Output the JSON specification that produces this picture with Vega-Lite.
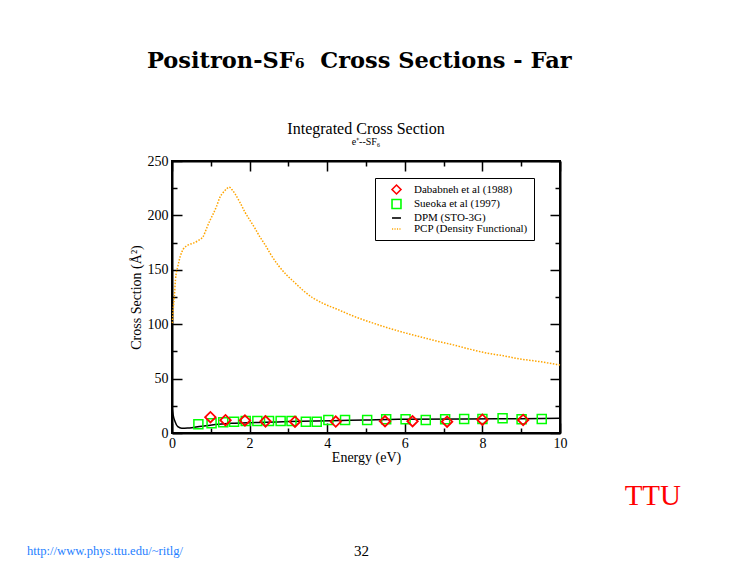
{
  "$schema": "https://vega.github.io/schema/vega-lite/v6.json",
  "autosize": {"type": "none"},
  "padding": {"left": 172, "top": 161, "right": 558, "bottom": 406},
  "background": "white",
  "config": {
    "font": "Liberation Serif",
    "view": {"stroke": "black", "strokeWidth": 2},
    "axis": {
      "grid": false, "domainColor": "black", "domainWidth": 2,
      "tickColor": "black", "tickWidth": 1.5,
      "labelFont": "Liberation Serif", "labelFontSize": 14, "labelColor": "black",
      "titleFont": "Liberation Serif", "titleFontSize": 14, "titleFontWeight": "normal", "titleColor": "black"
    }
  },
  "datasets": {
    "pcp": [
      {"energy": 0.01, "sigma": 101}, {"energy": 0.03, "sigma": 113}, {"energy": 0.06, "sigma": 125},
      {"energy": 0.09, "sigma": 141}, {"energy": 0.15, "sigma": 153}, {"energy": 0.21, "sigma": 162},
      {"energy": 0.29, "sigma": 169}, {"energy": 0.38, "sigma": 172}, {"energy": 0.46, "sigma": 173.5},
      {"energy": 0.55, "sigma": 174.5}, {"energy": 0.68, "sigma": 177}, {"energy": 0.81, "sigma": 181},
      {"energy": 0.89, "sigma": 188}, {"energy": 0.98, "sigma": 195.5}, {"energy": 1.07, "sigma": 202},
      {"energy": 1.15, "sigma": 208.5}, {"energy": 1.24, "sigma": 217}, {"energy": 1.32, "sigma": 221},
      {"energy": 1.41, "sigma": 224.5}, {"energy": 1.47, "sigma": 226}, {"energy": 1.55, "sigma": 223.5},
      {"energy": 1.62, "sigma": 220}, {"energy": 1.75, "sigma": 212}, {"energy": 1.88, "sigma": 203},
      {"energy": 2.0, "sigma": 196}, {"energy": 2.14, "sigma": 188}, {"energy": 2.27, "sigma": 180},
      {"energy": 2.4, "sigma": 173}, {"energy": 2.53, "sigma": 165}, {"energy": 2.74, "sigma": 154},
      {"energy": 2.96, "sigma": 145}, {"energy": 3.17, "sigma": 138}, {"energy": 3.38, "sigma": 131},
      {"energy": 3.64, "sigma": 124}, {"energy": 3.9, "sigma": 119}, {"energy": 4.24, "sigma": 114},
      {"energy": 4.67, "sigma": 107.5}, {"energy": 5.1, "sigma": 102}, {"energy": 5.53, "sigma": 97},
      {"energy": 5.96, "sigma": 92.5}, {"energy": 6.39, "sigma": 88.5}, {"energy": 6.82, "sigma": 84.5},
      {"energy": 7.25, "sigma": 81}, {"energy": 7.68, "sigma": 77}, {"energy": 8.11, "sigma": 73.5},
      {"energy": 8.54, "sigma": 71}, {"energy": 8.97, "sigma": 68}, {"energy": 9.4, "sigma": 66},
      {"energy": 9.91, "sigma": 63}, {"energy": 10.0, "sigma": 62.5}
    ],
    "dpm": [
      {"energy": 0.0, "sigma": 24}, {"energy": 0.03, "sigma": 16.5}, {"energy": 0.08, "sigma": 10.4},
      {"energy": 0.15, "sigma": 5.8}, {"energy": 0.25, "sigma": 4.3}, {"energy": 0.4, "sigma": 4.5},
      {"energy": 0.51, "sigma": 4.9}, {"energy": 0.7, "sigma": 6}, {"energy": 0.94, "sigma": 7},
      {"energy": 1.2, "sigma": 8}, {"energy": 1.54, "sigma": 8.9}, {"energy": 2.0, "sigma": 9.5},
      {"energy": 2.4, "sigma": 9.8}, {"energy": 3.0, "sigma": 10.5}, {"energy": 4.11, "sigma": 11.3},
      {"energy": 5.0, "sigma": 12}, {"energy": 5.83, "sigma": 12.6}, {"energy": 7.55, "sigma": 12.9},
      {"energy": 9.0, "sigma": 13.2}, {"energy": 10.0, "sigma": 13.5}
    ],
    "dababneh": [
      {"energy": 0.99, "sigma": 14.5, "series": "Dababneh et al (1988)"},
      {"energy": 1.38, "sigma": 11.8, "series": "Dababneh et al (1988)"},
      {"energy": 1.88, "sigma": 11.5, "series": "Dababneh et al (1988)"},
      {"energy": 2.41, "sigma": 10.7, "series": "Dababneh et al (1988)"},
      {"energy": 3.17, "sigma": 10.4, "series": "Dababneh et al (1988)"},
      {"energy": 4.22, "sigma": 10.5, "series": "Dababneh et al (1988)"},
      {"energy": 5.49, "sigma": 10.8, "series": "Dababneh et al (1988)"},
      {"energy": 6.2, "sigma": 10.8, "series": "Dababneh et al (1988)"},
      {"energy": 7.09, "sigma": 10.4, "series": "Dababneh et al (1988)"},
      {"energy": 8.0, "sigma": 12.2, "series": "Dababneh et al (1988)"},
      {"energy": 9.05, "sigma": 12.0, "series": "Dababneh et al (1988)"}
    ],
    "sueoka": [
      {"energy": 0.68, "sigma": 8.0, "series": "Sueoka et al (1997)"},
      {"energy": 1.02, "sigma": 8.9, "series": "Sueoka et al (1997)"},
      {"energy": 1.32, "sigma": 9.8, "series": "Sueoka et al (1997)"},
      {"energy": 1.6, "sigma": 10.4, "series": "Sueoka et al (1997)"},
      {"energy": 1.9, "sigma": 11.0, "series": "Sueoka et al (1997)"},
      {"energy": 2.2, "sigma": 11.0, "series": "Sueoka et al (1997)"},
      {"energy": 2.5, "sigma": 11.0, "series": "Sueoka et al (1997)"},
      {"energy": 2.8, "sigma": 11.0, "series": "Sueoka et al (1997)"},
      {"energy": 3.08, "sigma": 11.0, "series": "Sueoka et al (1997)"},
      {"energy": 3.45, "sigma": 10.4, "series": "Sueoka et al (1997)"},
      {"energy": 3.73, "sigma": 10.4, "series": "Sueoka et al (1997)"},
      {"energy": 4.03, "sigma": 12.0, "series": "Sueoka et al (1997)"},
      {"energy": 4.46, "sigma": 12.0, "series": "Sueoka et al (1997)"},
      {"energy": 5.03, "sigma": 12.0, "series": "Sueoka et al (1997)"},
      {"energy": 5.52, "sigma": 12.6, "series": "Sueoka et al (1997)"},
      {"energy": 6.02, "sigma": 12.6, "series": "Sueoka et al (1997)"},
      {"energy": 6.54, "sigma": 12.0, "series": "Sueoka et al (1997)"},
      {"energy": 7.04, "sigma": 12.6, "series": "Sueoka et al (1997)"},
      {"energy": 7.53, "sigma": 12.9, "series": "Sueoka et al (1997)"},
      {"energy": 8.0, "sigma": 12.9, "series": "Sueoka et al (1997)"},
      {"energy": 8.52, "sigma": 13.5, "series": "Sueoka et al (1997)"},
      {"energy": 9.01, "sigma": 12.6, "series": "Sueoka et al (1997)"},
      {"energy": 9.53, "sigma": 12.9, "series": "Sueoka et al (1997)"}
    ]
  },
  "title": {
    "text": "Positron-SF₆\u00a0 Cross Sections - Far", "orient": "top", "anchor": "start",
    "font": "DejaVu Serif", "fontSize": 22.5, "fontWeight": "bold", "color": "black",
    "offset": 48, "dx": 120
  },
  "bounds": "flush",
  "vconcat": [
    {
      "title": {
        "text": "http://www.phys.ttu.edu/~ritlg/", "orient": "bottom", "anchor": "start",
        "font": "Liberation Serif", "fontSize": 12.6, "fontWeight": "normal", "color": "#1f7fff",
        "offset": 0, "dx": -101, "dy": -14
      },
      "bounds": "flush",
      "vconcat": [
        {
          "title": {
            "text": "32", "orient": "bottom", "anchor": "middle",
            "font": "Liberation Serif", "fontSize": 15, "fontWeight": "normal", "color": "black",
            "offset": 33, "dx": -43
          },
          "bounds": "flush",
          "vconcat": [
            {
              "title": {
                "text": "TTU", "orient": "bottom", "anchor": "end",
                "font": "Liberation Serif", "fontSize": 29, "fontWeight": "normal", "color": "#ff0000",
                "offset": 17, "dx": 113
              },
              "bounds": "flush",
              "vconcat": [
                {
                  "width": 388,
                  "height": 272,
                  "title": {
                    "text": "Integrated Cross Section", "subtitle": "e⁺--SF₆", "anchor": "middle",
                    "font": "Liberation Serif", "fontSize": 16, "fontWeight": "normal", "color": "black",
                    "subtitleFont": "Liberation Serif", "subtitleFontSize": 10, "subtitleColor": "black",
                    "subtitlePadding": 0, "offset": 7
                  },
                  "resolve": {"axis": {"x": "independent", "y": "independent"}},
                  "layer": [
                    {
                      "data": {"name": "pcp"},
                      "mark": {"type": "line", "color": "#ffa500", "strokeWidth": 1.5, "strokeDash": [1.5, 1.5], "interpolate": "monotone"},
                      "encoding": {
                        "x": {
                          "field": "energy", "type": "quantitative",
                          "scale": {"domain": [0, 10], "nice": false},
                          "axis": {
                            "orient": "bottom", "values": [0, 1, 2, 3, 4, 5, 6, 7, 8, 9, 10],
                            "tickSize": {"condition": {"test": "datum.value % 2 !== 0", "value": -5}, "value": -10},
                            "labelExpr": "datum.value % 2 === 0 ? datum.label : ''",
                            "labelPadding": 13, "title": "Energy (eV)", "titlePadding": 0, "labelFlush": false
                          }
                        },
                        "y": {
                          "field": "sigma", "type": "quantitative",
                          "scale": {"domain": [0, 250], "nice": false},
                          "axis": {
                            "orient": "left", "values": [0, 25, 50, 75, 100, 125, 150, 175, 200, 225, 250],
                            "tickSize": {"condition": {"test": "datum.value % 50 !== 0", "value": -5}, "value": -10},
                            "labelExpr": "datum.value % 50 === 0 ? datum.label : ''",
                            "labelPadding": 14, "title": "Cross Section (Å²)", "titlePadding": 4, "labelFlush": false
                          }
                        }
                      }
                    },
                    {
                      "data": {"name": "dpm"},
                      "mark": {"type": "line", "color": "black", "strokeWidth": 1.5, "interpolate": "monotone"},
                      "encoding": {
                        "x": {
                          "field": "energy", "type": "quantitative",
                          "scale": {"domain": [0, 10], "nice": false},
                          "axis": {
                            "orient": "top", "values": [0, 1, 2, 3, 4, 5, 6, 7, 8, 9, 10],
                            "tickSize": {"condition": {"test": "datum.value % 2 !== 0", "value": -5}, "value": -10},
                            "labels": false, "title": null
                          }
                        },
                        "y": {
                          "field": "sigma", "type": "quantitative",
                          "scale": {"domain": [0, 250], "nice": false},
                          "axis": {
                            "orient": "right", "values": [0, 25, 50, 75, 100, 125, 150, 175, 200, 225, 250],
                            "tickSize": {"condition": {"test": "datum.value % 50 !== 0", "value": -5}, "value": -10},
                            "labels": false, "title": null
                          }
                        }
                      }
                    },
                    {
                      "data": {"name": "sueoka"},
                      "mark": {"type": "point", "filled": false, "strokeWidth": 1.5, "size": 81, "opacity": 1},
                      "encoding": {
                        "x": {"field": "energy", "type": "quantitative", "scale": {"domain": [0, 10], "nice": false}, "axis": null},
                        "y": {"field": "sigma", "type": "quantitative", "scale": {"domain": [0, 250], "nice": false}, "axis": null},
                        "color": {
                          "field": "series", "type": "nominal",
                          "scale": {
                            "domain": ["Dababneh et al (1988)", "Sueoka et al (1997)", "DPM (STO-3G)", "PCP (Density Functional)"],
                            "range": ["#ff0000", "#00ff00", "#000000", "#ffa500"]
                          },
                          "legend": {
                            "title": null, "orient": "none", "legendX": 203, "legendY": 17,
                            "strokeColor": "black", "fillColor": "white", "padding": 6,
                            "labelFont": "Liberation Serif", "labelFontSize": 11, "labelColor": "black",
                            "symbolSize": 80, "symbolStrokeWidth": 1.6, "rowPadding": -2.5, "labelOffset": 12, "symbolOffset": 10
                          }
                        },
                        "shape": {
                          "field": "series", "type": "nominal",
                          "scale": {
                            "domain": ["Dababneh et al (1988)", "Sueoka et al (1997)", "DPM (STO-3G)", "PCP (Density Functional)"],
                            "range": ["diamond", "square", "M-1,0H1", "M-1,0H-0.75M-0.45,0H-0.2M0.1,0H0.35M0.65,0H0.9"]
                          },
                          "legend": {
                            "title": null, "orient": "none", "legendX": 203, "legendY": 17,
                            "strokeColor": "black", "fillColor": "white", "padding": 6,
                            "labelFont": "Liberation Serif", "labelFontSize": 11, "labelColor": "black",
                            "symbolSize": 80, "symbolStrokeWidth": 1.6, "rowPadding": -2.5, "labelOffset": 12, "symbolOffset": 10
                          }
                        }
                      }
                    },
                    {
                      "data": {"name": "dababneh"},
                      "mark": {"type": "point", "filled": false, "strokeWidth": 1.8, "size": 110, "opacity": 1},
                      "encoding": {
                        "x": {"field": "energy", "type": "quantitative", "scale": {"domain": [0, 10], "nice": false}, "axis": null},
                        "y": {"field": "sigma", "type": "quantitative", "scale": {"domain": [0, 250], "nice": false}, "axis": null},
                        "color": {"field": "series", "type": "nominal"},
                        "shape": {"field": "series", "type": "nominal"}
                      }
                    }
                  ]
                }
              ]
            }
          ]
        }
      ]
    }
  ]
}
